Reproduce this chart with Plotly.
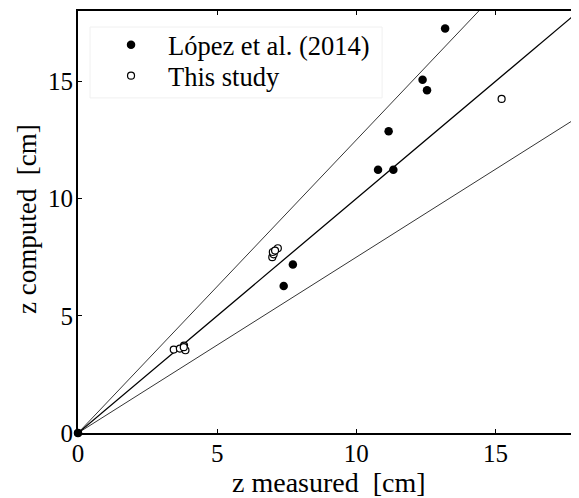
import plotly.graph_objects as go

# Data
lopez_x = [0, 7.39, 7.72, 10.78, 11.33, 11.16, 12.54, 12.38, 13.19]
lopez_y = [0, 6.27, 7.19, 11.23, 11.23, 12.87, 14.62, 15.07, 17.25]
study_x = [0, 3.44, 3.66, 3.81, 3.86, 3.80, 6.98, 7.03, 7.00, 7.18, 7.08, 15.22]
study_y = [0, 3.56, 3.60, 3.73, 3.53, 3.66, 7.50, 7.62, 7.72, 7.88, 7.78, 14.25]

ref_x = [0, 18]
ref_y = [0, 18]
upper_x = [0, 18]
upper_y = [0, 22.5]   # +25 %
lower_x = [0, 18]
lower_y = [0, 13.5]   # -25 %

tick_vals = [0, 5, 10, 15]
tick_text = ["0", "5", "10", "15"]

FONT = "Liberation Serif, Times New Roman, serif"
NB = "\u00a0"

fig = go.Figure()
fig.add_trace(go.Scatter(x=upper_x, y=upper_y, mode="lines",
                         line=dict(color="black", width=0.8), showlegend=False, hoverinfo="skip"))
fig.add_trace(go.Scatter(x=ref_x, y=ref_y, mode="lines",
                         line=dict(color="black", width=1.3), showlegend=False, hoverinfo="skip"))
fig.add_trace(go.Scatter(x=lower_x, y=lower_y, mode="lines",
                         line=dict(color="black", width=0.8), showlegend=False, hoverinfo="skip"))
fig.add_trace(go.Scatter(x=study_x, y=study_y, mode="markers", name="This study", legend="legend2",
                         marker=dict(color="white", size=7, symbol="circle",
                                     line=dict(color="black", width=1.2)), cliponaxis=False))
fig.add_trace(go.Scatter(x=lopez_x, y=lopez_y, mode="markers", name="López et al. (2014)", legend="legend",
                         marker=dict(color="black", size=8.5, symbol="circle"), cliponaxis=False))
# helper invisible trace for right-side tick axis
fig.add_trace(go.Scatter(x=[0], y=[0], xaxis="x", yaxis="y2", mode="markers",
                         marker=dict(opacity=0), showlegend=False, hoverinfo="skip"))

legend_common = dict(xanchor="left", yanchor="top", bgcolor="rgba(255,255,255,0)",
                     borderwidth=0, font=dict(size=26.5), itemwidth=64)

fig.update_layout(
    width=571, height=490,
    margin=dict(l=70, r=0, t=3, b=65, autoexpand=False),
    plot_bgcolor="white", paper_bgcolor="white",
    font=dict(family=FONT, size=25, color="black"),
    xaxis=dict(range=[0, 18], tickvals=tick_vals, ticktext=tick_text,
               ticks="inside", ticklen=4, tickcolor="black", tickwidth=1,
               showline=True, linecolor="black", linewidth=2, mirror="ticks",
               showgrid=False, zeroline=False, automargin=False,
               ticklabelstandoff=-3,
               tickfont=dict(size=25)),
    yaxis=dict(range=[0, 18], tickvals=tick_vals, ticktext=tick_text,
               ticks="inside", ticklen=4, tickcolor="black", tickwidth=1,
               showline=True, linecolor="black", linewidth=2, mirror=False,
               showgrid=False, zeroline=False, automargin=False,
               ticklabelstandoff=-2,
               tickfont=dict(size=25)),
    yaxis2=dict(range=[0, 18], tickvals=tick_vals, overlaying="y", side="right",
                ticks="inside", ticklen=4, tickcolor="black", tickwidth=1, automargin=False,
                showticklabels=False, showline=False, showgrid=False, zeroline=False),
    legend=dict(x=0.032, y=0.976, **legend_common),
    legend2=dict(x=0.032, y=0.903, **legend_common),
    shapes=[dict(type="rect", xref="paper", yref="paper", x0=0.024, x1=0.607, y0=0.794, y1=0.962,
                 line=dict(color="#f0f0f0", width=1), fillcolor="rgba(0,0,0,0)", layer="below")],
    annotations=[
        dict(text="z measured" + NB + NB + "[cm]", xref="paper", yref="paper", x=0.5, y=0,
             yshift=-33, xanchor="center", yanchor="top", showarrow=False, borderpad=0,
             font=dict(size=28)),
        dict(text="z computed" + NB + NB + "[cm]", xref="paper", yref="paper", x=0, y=0.5,
             xshift=-51, yshift=3, xanchor="center", yanchor="middle", textangle=-90,
             showarrow=False, font=dict(size=27)),
    ],
)

fig.write_html("out.html")
